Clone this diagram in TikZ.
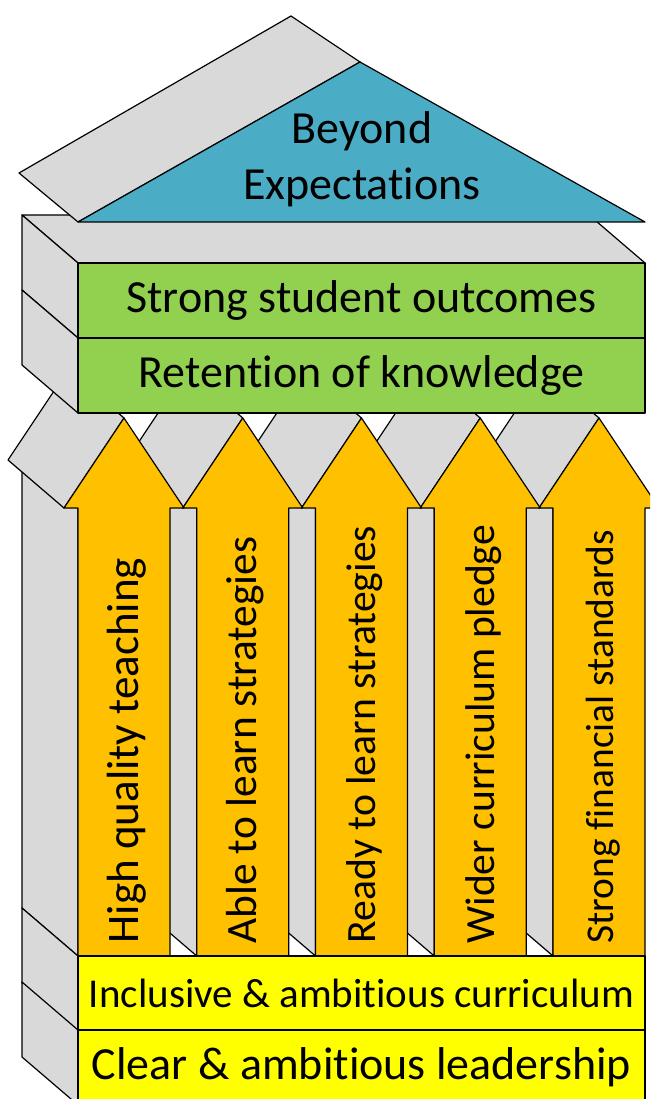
\documentclass[tikz,border=0pt]{standalone}
\usepackage{fontspec}
\setmainfont{Carlito}[Ligatures=NoCommon]
\newcommand{\ngat}{\kern0pt}
\definecolor{xam}{HTML}{D9D9D9}
\definecolor{xanhduong}{HTML}{4BACC6}
\definecolor{xanhla}{HTML}{92D050}
\definecolor{cam}{HTML}{FFC000}
\definecolor{vang}{HTML}{FFFF00}
\begin{document}
\begin{tikzpicture}[x=1pt,y=-1pt,line join=round,line width=1.2pt,
	mat/.style={draw,fill=xam},
	hop/.style={draw,minimum width=567pt,minimum height=75pt,inner sep=0pt,font=\fontsize{46}{55}\selectfont},
	chu/.style={rotate=90,anchor=base west,inner sep=0pt}]
	\useasboundingbox (0,0) rectangle (650,1099);
	\clip (0,0) rectangle (650,1099);
	% Vẽ mặt trên và mái
	\draw[mat] (22,215)--(589,215)--(645,263)--(78,263)--cycle;
	\draw[mat] (19,173)--(291,16)--(360,62)--(78,222)--cycle;
	\draw[fill=xanhduong] (78,222)--(360,62)--(645,222)--cycle;
	\node[align=center,inner sep=0pt,font=\fontsize{46}{56}\selectfont] (mai) at (362,159) {Beyond\\Expectat\ngat ions};
	% Vẽ 5 cột mũi tên, từ phải sang trái
	\foreach \i/\s/\t in {5/39.4/Strong f\ngat inancial standards,4/41.6/Wider curriculum pledge,3/41.7/Ready to learn strategies,2/43.4/Able to learn strategies,1/45.1/High quality teaching}{
		\pgfmathsetmacro\c{124+118.75*(\i-1)}
		\draw[mat] (\c-102,460)--(\c-46,508)--(\c-46,956)--(\c-102,908)--cycle;
		\draw[mat] (\c-56,370)--(\c,418)--(\c-60,508)--(\c-116,460)--cycle;
		\draw[fill=cam] (\c,418)--(\c+60,508)--(\c+46,508)--(\c+46,956)--(\c-46,956)--(\c-46,508)--(\c-60,508)--cycle;
		\node[chu,font=\fontsize{\s}{50}\selectfont] (tru\i) at (\c+14,944) {\t};
	}
	% Vẽ 2 tầng trên
	\foreach \y in {263,338}
	\draw[mat] (22,\y-48)--(78,\y)--(78,\y+75)--(22,\y+27)--cycle;
	\node[hop,fill=xanhla] (ketqua) at (361.5,300.5) {Strong student outcomes};
	\node[hop,fill=xanhla] (ghinho) at (361.5,375.5) {Retent\ngat ion of knowledge};
	% Vẽ 2 tầng nền
	\foreach \y in {956,1030}
	\draw[mat] (22,\y-48)--(78,\y)--(78,\y+75)--(22,\y+27)--cycle;
	\node[hop,fill=vang,font=\fontsize{41}{50}\selectfont] (chuongtrinh) at (361.5,993.5) {Inclusive \& ambitious curriculum};
	\node[hop,fill=vang] (lanhdao) at (361.5,1067.5) {Clear \& ambitious leadership};
\end{tikzpicture}
\end{document}
